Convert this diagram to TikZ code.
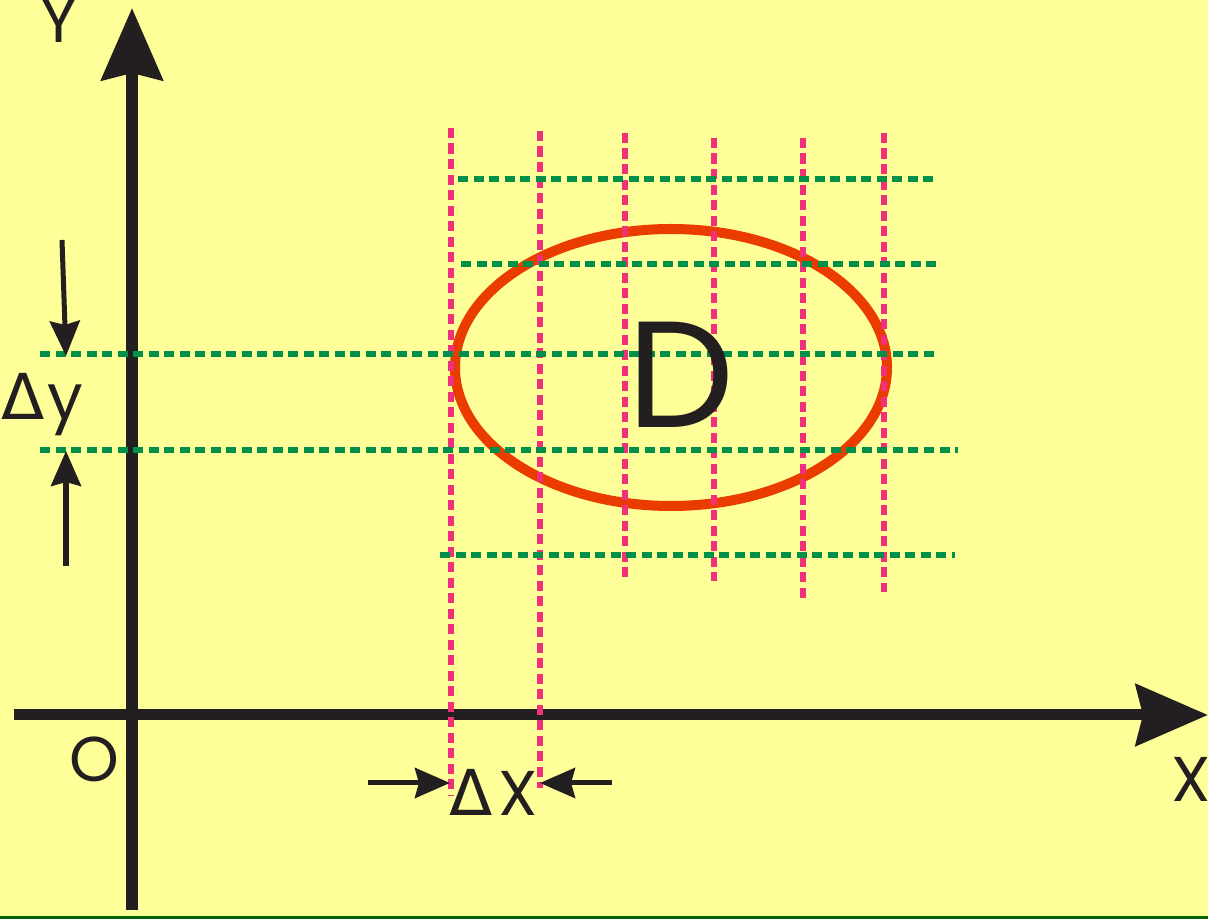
\documentclass[tikz,border=0pt]{standalone}
\usepackage{fontspec}
\setmainfont{Poppins}
\newfontfamily\deltafont{DejaVu Sans}
\usetikzlibrary{arrows.meta,positioning}

\definecolor{paper}{HTML}{FFFF99}
\definecolor{axisblack}{HTML}{231F20}
\definecolor{gridpink}{HTML}{F0307A}
\definecolor{gridgreen}{HTML}{00904A}
\definecolor{regionred}{HTML}{EB3C00}
\definecolor{rulegreen}{HTML}{006400}

\tikzset{
  axisline/.style={axisblack, line width=0.11cm, -{Stealth[length=0.72cm, width=0.61cm, inset=0.07cm]}},
  stepline/.style={axisblack, line width=0.05cm, -{Stealth[length=0.35cm, width=0.30cm, inset=0.04cm]}},
  gridv/.style={gridpink, line width=0.06cm, dash pattern=on 0.10cm off 0.055cm},
  gridh/.style={gridgreen, line width=0.06cm, dash pattern=on 0.10cm off 0.055cm},
  lab/.style={axisblack, inner sep=0pt, anchor=base, font=\fontsize{18}{20}\selectfont}
}

\begin{document}
\begin{tikzpicture}[x=0.01cm, y=-0.01cm]
  \fill[paper] (0,0) rectangle (1208,919);
  \useasboundingbox (0,0) rectangle (1208,919);
  \draw[rulegreen, line width=0.03cm] (0,917.5) -- (1208,917.5);

  % axes
  \coordinate (ystart) at (132,910);
  \coordinate (yend) at (132,8);
  \coordinate (xstart) at (14,715);
  \coordinate (xend) at (1208,715);
  \draw[axisline] (ystart) -- (yend);
  \draw[axisline] (xstart) -- (xend);

  % region D
  \draw[regionred, line width=0.1cm] (671,367.5) ellipse [x radius=216, y radius=138.5];

  % grid
  \foreach \x/\a/\b in {451/128/795, 540/131/788, 625/133/577, 714/138/581, 803/138/598, 884/133/592}{
  	\draw[gridv] (\x,\a) -- (\x,\b);
  	}
  \foreach \y/\a/\b in {179/458/938, 264/461/940, 354/40/938, 450/40/958, 555/440/955}{
  	\draw[gridh] (\a,\y) -- (\b,\y);
  	}

  % step arrows
  \coordinate (dytop) at (62,240);
  \coordinate (dytopend) at (66,356);
  \coordinate (dybot) at (66,566);
  \coordinate (dybotend) at (66,451);
  \coordinate (dxleft) at (368,783);
  \coordinate (dxleftend) at (450,783);
  \coordinate (dxright) at (612,783);
  \coordinate (dxrightend) at (540,783);
  \draw[stepline] (dytop) -- (dytopend);
  \draw[stepline] (dybot) -- (dybotend);
  \draw[stepline] (dxleft) -- (dxleftend);
  \draw[stepline] (dxright) -- (dxrightend);

  % labels
  \node[lab] (ylab) at (59,43) {Y};
  \node[lab] (olab) at (94,782) {O};
  \node[lab] (xlab) at (1191,802) {X};
  \node[lab] (dxlab) at (494,816) {{\deltafont Δ}\kern0.06cm X};
  \node[lab, anchor=base west] (dylab) at (1,420) {{\deltafont Δ}\kern0.02cm y};
  \node[lab, font=\fontsize{43}{46}\selectfont] (dlab) at (681,428) {D};
\end{tikzpicture}
\end{document}
